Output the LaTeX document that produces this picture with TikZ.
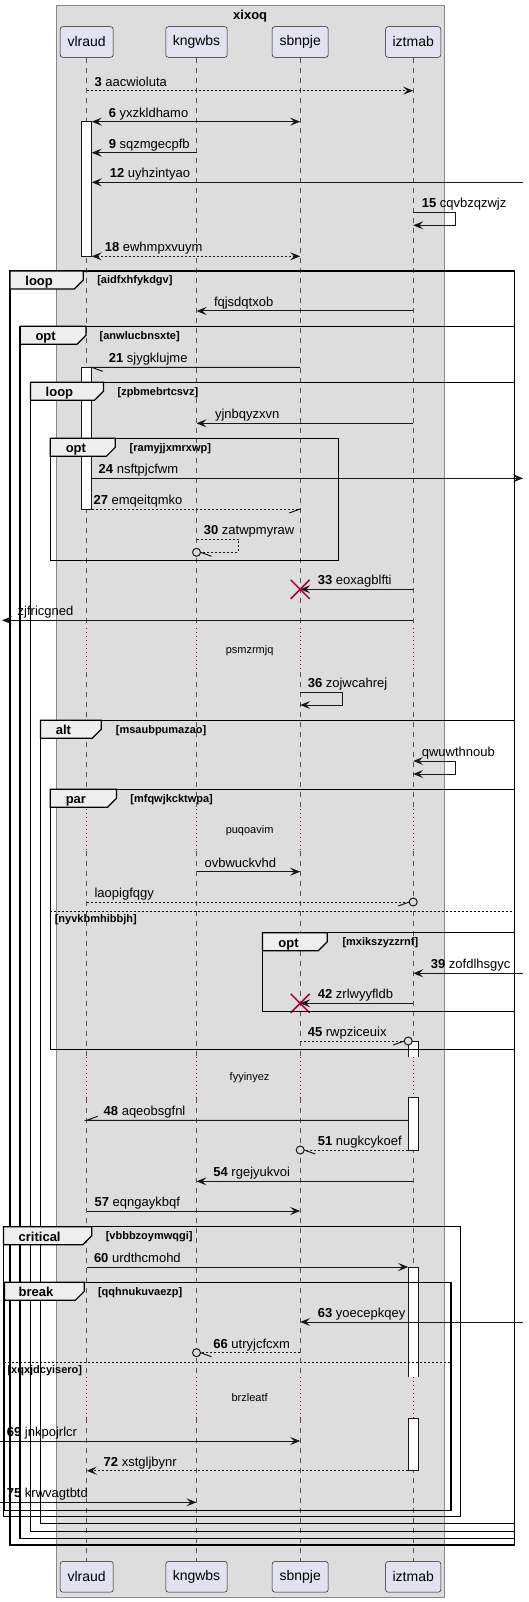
\documentclass[tikz,border=0pt]{standalone}
\usepackage{fontspec}
\setmainfont{Liberation Sans}
\usetikzlibrary{arrows.meta}
\definecolor{partfill}{HTML}{E2E2F0}
\definecolor{boxfill}{HTML}{DDDDDD}
\definecolor{boxline}{HTML}{888888}
\definecolor{ink}{HTML}{181818}
\definecolor{lifegray}{HTML}{555555}
\definecolor{delayred}{HTML}{A80036}
\definecolor{tabfill}{HTML}{EEEEEE}

\begin{document}
\begin{tikzpicture}[x=1pt,y=-1pt,
  >={Stealth[length=10pt,width=8pt,inset=4pt]},
  part/.style={draw=ink,line width=.5pt,fill=partfill,rounded corners=2.5pt,
    minimum height=30.6pt,inner xsep=7pt,font=\fontsize{14}{16}\selectfont},
  life/.style={draw=lifegray,line width=.6pt,dash pattern=on 5pt off 5pt},
  delayline/.style={draw=delayred,line width=.8pt,dash pattern=on 1pt off 3pt},
  act/.style={draw=ink,line width=1pt,fill=white},
  msgline/.style={draw=ink,line width=1pt},
  msg/.style={msgline,->},
  ret/.style={msgline,dash pattern=on 2pt off 2pt},
  lbl/.style={anchor=base west,inner sep=0pt,font=\fontsize{13}{15}\selectfont},
  dlbl/.style={anchor=base,inner sep=0pt,font=\fontsize{11}{13}\selectfont},
  frame/.style={draw=black,line width=1.5pt},
  tab/.style={draw=black,line width=1.2pt,fill=tabfill},
  tablbl/.style={anchor=base west,inner sep=0pt,font=\fontsize{13}{15}\selectfont\bfseries},
  cond/.style={anchor=base west,inner sep=0pt,font=\fontsize{11}{13}\selectfont\bfseries},
  xmark/.style={draw=delayred,line width=1.5pt}
]
\useasboundingbox (0,0) rectangle (529,1602);

%% box xixoq
\draw[draw=boxline,fill=boxfill,line width=1pt] (56.3,5.7) rectangle (444.2,1597.7);
\node[anchor=base,inner sep=0pt,font=\fontsize{13}{15}\selectfont\bfseries] (boxtitle) at (250.2,20) {xixoq};

%% participants
\node[part,minimum width=53pt] (vlraud) at (86.7,42) {vlraud};
\node[part,minimum width=61pt] (kngwbs) at (196.5,42) {kngwbs};
\node[part,minimum width=56pt] (sbnpje) at (300.2,42) {sbnpje};
\node[part,minimum width=54pt] (iztmab) at (413.2,42) {iztmab};
\node[part,minimum width=53pt] (vlraud-b) at (86.7,1576.8) {vlraud};
\node[part,minimum width=61pt] (kngwbs-b) at (196.5,1576.8) {kngwbs};
\node[part,minimum width=56pt] (sbnpje-b) at (300.2,1576.8) {sbnpje};
\node[part,minimum width=54pt] (iztmab-b) at (413.2,1576.8) {iztmab};

%% lifelines, dotted where the delays are
\foreach \p in {vlraud,kngwbs,sbnpje,iztmab}{
  \draw[life] (\p.south) -- (\p |- 0,628) (\p |- 0,672) -- (\p |- 0,809)
    (\p |- 0,851) -- (\p |- 0,1056.7) (\p |- 0,1097.7) -- (\p |- 0,1377.3)
    (\p |- 0,1418.3) -- (\p-b.north);
  \draw[delayline] (\p |- 0,628) -- (\p |- 0,672) (\p |- 0,809) -- (\p |- 0,851)
    (\p |- 0,1056.7) -- (\p |- 0,1097.7) (\p |- 0,1377.3) -- (\p |- 0,1418.3);
}

%% activation edges
\coordinate (vR) at (91.7,0);
\coordinate (iL) at (408.2,0);
\coordinate (extR) at (523,0);
\coordinate (extL) at (0,0);

%% activations
\draw[act] (81.7,121.7) rectangle (91.7,256.7);
\draw[act] (81.7,367.3) rectangle (91.7,509);
\fill[white] (408.2,1041) rectangle (418.2,1056.7);
\draw[act] (408.2,1056.7) -- (408.2,1041) -- (418.2,1041) -- (418.2,1056.7);
\draw[act] (408.2,1097.7) rectangle (418.2,1150);
\fill[white] (408.2,1267) rectangle (418.2,1377.3);
\draw[act] (408.2,1377.3) -- (408.2,1267) -- (418.2,1267) -- (418.2,1377.3);
\draw[act] (408.2,1418.3) rectangle (418.2,1470.7);

%% messages
\draw[ret,->] (vlraud |- 0,90.7) -- (iztmab |- 0,90.7);
\node[lbl] (l3) at (94.4,86.2) {{\bfseries 3} aacwioluta};

\draw[msgline,<->] (vR |- 0,121.7) -- (sbnpje |- 0,121.7);
\node[lbl] (l6) at (108.6,117.2) {{\bfseries 6} yxzkldhamo};

\draw[msg] (kngwbs |- 0,152.7) -- (vR |- 0,152.7);
\node[lbl] (l9) at (108.6,148.2) {{\bfseries 9} sqzmgecpfb};

\draw[msg] (extR |- 0,182.3) -- (vR |- 0,182.3);
\node[lbl] (l12) at (109.6,177.8) {{\bfseries 12} uyhzintyao};

\draw[msg] (iztmab |- 0,212.3) -- (455.3,212.3) -- (455.3,225.3) -- (iztmab |- 0,225.3);
\node[lbl] (l15) at (421.6,207.8) {{\bfseries 15} cqvbzqzwjz};

\draw[ret,<->] (vR |- 0,256.3) -- (sbnpje |- 0,256.3);
\node[lbl] (l18) at (104.6,251.8) {{\bfseries 18} ewhmpxvuym};

\draw[msg] (iztmab |- 0,311) -- (kngwbs |- 0,311);
\node[lbl] (lfq) at (213.8,306.5) {fqjsdqtxob};

\draw[msgline] (sbnpje |- 0,367.3) -- (vR |- 0,367.3) -- ++(11,4);
\node[lbl] (l21) at (108.6,362.8) {{\bfseries 21} sjygklujme};

\draw[msg] (iztmab |- 0,423.3) -- (kngwbs |- 0,423.3);
\node[lbl] (lyj) at (214.8,418.8) {yjnbqyzxvn};

\draw[msg] (vR |- 0,478.3) -- (extR |- 0,478.3);
\node[lbl] (l24) at (98.5,473.8) {{\bfseries 24} nsftpjcfwm};

\draw[ret] (vR |- 0,509) -- (sbnpje |- 0,509);
\draw[msgline] (sbnpje |- 0,509) -- ++(-11,4);
\node[lbl] (l27) at (93.4,504.5) {{\bfseries 27} emqeitqmko};

\draw[ret] (kngwbs |- 0,539.3) -- (238.4,539.3) -- (238.4,552.3) -- (kngwbs |- 0,552.3);
\draw[msgline,fill=boxfill] (kngwbs |- 0,552.3) circle (4pt);
\draw[msgline] (kngwbs |- 0,552.3) ++(4,0) -- ++(11,4);
\node[lbl] (l30) at (203.7,534.8) {{\bfseries 30} zatwpmyraw};

\draw[msg] (iztmab |- 0,589.3) -- (sbnpje |- 0,589.3);
\draw[xmark] (sbnpje |- 0,589.3) ++(-9.5,-9.5) -- ++(19,19) ++(0,-19) -- ++(-19,19);
\node[lbl] (l33) at (317.7,584.8) {{\bfseries 33} eoxagblfti};

\draw[msg] (iztmab |- 0,620.3) -- ([xshift=2pt]extL |- 0,620.3);
\node[lbl] (lzj) at (17.5,615.8) {zjfricgned};

\node[dlbl] (d1) at (249.6,653.5) {psmzrmjq};

\draw[msg] (sbnpje |- 0,692.3) -- (342.3,692.3) -- (342.3,705) -- (sbnpje |- 0,705);
\node[lbl] (l36) at (307.6,687.8) {{\bfseries 36} zojwcahrej};

\draw[msgline,<->] (iztmab |- 0,761) -- (455.3,761) -- (455.3,774) -- (iztmab |- 0,774);
\node[lbl] (lqw) at (421.6,756.5) {qwuwthnoub};

\node[dlbl] (d2) at (249.6,833.5) {puqoavim};

\draw[msg] (kngwbs |- 0,871.7) -- (sbnpje |- 0,871.7);
\node[lbl] (lov) at (204.4,867.2) {ovbwuckvhd};

\draw[ret] (vlraud |- 0,902) -- (iztmab |- 0,902);
\draw[msgline,fill=boxfill] (iztmab |- 0,902) circle (4pt);
\draw[msgline] (iztmab |- 0,902) ++(-4,0) -- ++(-11,4);
\node[lbl] (lla) at (94.4,897.5) {laopigfqgy};

\draw[msg] (extR |- 0,973.3) -- (iztmab |- 0,973.3);
\node[lbl] (l39) at (430.7,968.8) {{\bfseries 39} zofdlhsgyc};

\draw[msg] (iztmab |- 0,1003.3) -- (sbnpje |- 0,1003.3);
\draw[xmark] (sbnpje |- 0,1003.3) ++(-9.5,-9.5) -- ++(19,19) ++(0,-19) -- ++(-19,19);
\node[lbl] (l42) at (317.7,998.8) {{\bfseries 42} zrlwyyfldb};

\draw[ret] (sbnpje |- 0,1041) -- (iL |- 0,1041);
\draw[msgline,fill=boxfill] (iL |- 0,1041) circle (4pt);
\draw[msgline] (iL |- 0,1041) ++(-4,0) -- ++(-11,4);
\node[lbl] (l45) at (307.6,1036.5) {{\bfseries 45} rwpziceuix};

\node[dlbl] (d3) at (249.6,1080.7) {fyyinyez};

\draw[msgline] (iL |- 0,1120.3) -- (vlraud |- 0,1120.3) -- ++(11,-4);
\node[lbl] (l48) at (103.5,1115.8) {{\bfseries 48} aqeobsgfnl};

\draw[ret] (iL |- 0,1150) -- (sbnpje |- 0,1150);
\draw[msgline,fill=boxfill] (sbnpje |- 0,1150) circle (4pt);
\draw[msgline] (sbnpje |- 0,1150) ++(4,0) -- ++(11,4);
\node[lbl] (l51) at (317.7,1145.5) {{\bfseries 51} nugkcykoef};

\draw[msg] (iztmab |- 0,1181.3) -- (kngwbs |- 0,1181.3);
\node[lbl] (l54) at (213.2,1176.8) {{\bfseries 54} rgejyukvoi};

\draw[msg] (vlraud |- 0,1211) -- (sbnpje |- 0,1211);
\node[lbl] (l57) at (94.4,1206.5) {{\bfseries 57} eqngaykbqf};

\draw[msg] (vlraud |- 0,1267) -- (iL |- 0,1267);
\node[lbl] (l60) at (93.8,1262.5) {{\bfseries 60} urdthcmohd};

\draw[msg] (extR |- 0,1322) -- (sbnpje |- 0,1322);
\node[lbl] (l63) at (317.7,1317.5) {{\bfseries 63} yoecepkqey};

\draw[ret] (sbnpje |- 0,1352.7) -- (kngwbs |- 0,1352.7);
\draw[msgline,fill=boxfill] (kngwbs |- 0,1352.7) circle (4pt);
\draw[msgline] (kngwbs |- 0,1352.7) ++(4,0) -- ++(11,4);
\node[lbl] (l66) at (213.2,1348.2) {{\bfseries 66} utryjcfcxm};

\node[dlbl] (d4) at (249.6,1401.3) {brzleatf};

\draw[msg] (extL |- 0,1441) -- (sbnpje |- 0,1441);
\node[lbl] (l69) at (6.7,1436.5) {{\bfseries 69} jnkpojrlcr};

\draw[ret,->] (iL |- 0,1470.7) -- (vlraud |- 0,1470.7);
\node[lbl] (l72) at (103.5,1466.2) {{\bfseries 72} xstgljbynr};

\draw[msg] (extL |- 0,1502.3) -- (kngwbs |- 0,1502.3);
\node[lbl] (l75) at (6.7,1497.8) {{\bfseries 75} krwvagtbtd};

%% frames
% loop aidfxhfykdgv
\draw[frame] (10.1,271) rectangle (514.3,1545);
\draw[tab] (10.1,271) -- (83.3,271) -- (83.3,280) -- (74.3,289) -- (10.1,289) -- cycle;
\node[tablbl] (floop1) at (25.2,285.3) {loop};
\node[cond] (cloop1) at (97.1,283.7) {[aidfxhfykdgv]};

% opt anwlucbnsxte
\draw[frame] (20.2,326.3) rectangle (514.3,1538.3);
\draw[tab] (20.2,326.3) -- (86,326.3) -- (86,335.3) -- (77,344.3) -- (20.2,344.3) -- cycle;
\node[tablbl] (fopt1) at (35.3,340.6) {opt};
\node[cond] (copt1) at (99.5,339) {[anwlucbnsxte]};

% loop zpbmebrtcsvz
\draw[frame] (30.4,382.3) rectangle (514.3,1531.7);
\draw[tab] (30.4,382.3) -- (103.5,382.3) -- (103.5,391.3) -- (94.5,400.3) -- (30.4,400.3) -- cycle;
\node[tablbl] (floop2) at (45.5,396.6) {loop};
\node[cond] (cloop2) at (117.4,395) {[zpbmebrtcsvz]};

% opt ramyjjxmrxwp
\draw[frame] (50.3,438.3) rectangle (338.3,560.7);
\draw[tab] (50.3,438.3) -- (115.3,438.3) -- (115.3,447.3) -- (106.3,456.3) -- (50.3,456.3) -- cycle;
\node[tablbl] (fopt2) at (65.6,452.6) {opt};
\node[cond] (copt2) at (129.5,451) {[ramyjjxmrxwp]};

% alt msaubpumazao
\draw[frame] (40.5,720.3) rectangle (514.3,1523.3);
\draw[tab] (40.5,720.3) -- (101.2,720.3) -- (101.2,729.3) -- (92.2,738.3) -- (40.5,738.3) -- cycle;
\node[tablbl] (falt) at (55.6,734.6) {alt};
\node[cond] (calt) at (115.7,733) {[msaubpumazao]};

% par mfqwjkcktwpa
\draw[frame] (50.3,789.3) rectangle (514.3,1049.3);
\draw[tab] (50.3,789.3) -- (116.4,789.3) -- (116.4,798.3) -- (107.4,807.3) -- (50.3,807.3) -- cycle;
\node[tablbl] (fpar) at (65.6,803.6) {par};
\node[cond] (cpar) at (130.2,802) {[mfqwjkcktwpa]};
\draw[draw=black,line width=1pt,dash pattern=on 2pt off 2pt] (50.3,911) -- (514.3,911);
\node[cond] (epar) at (54.6,922) {[nyvkbmhibbjh]};

% opt mxikszyzzrnf
\draw[frame] (262.4,932.7) rectangle (514.3,1011.3);
\draw[tab] (262.4,932.7) -- (327.2,932.7) -- (327.2,941.7) -- (318.2,950.7) -- (262.4,950.7) -- cycle;
\node[tablbl] (fopt3) at (278.2,947) {opt};
\node[cond] (copt3) at (342.3,945.4) {[mxikszyzzrnf]};

% critical vbbbzoymwqgi
\draw[frame] (3.4,1226.7) rectangle (460.4,1516.7);
\draw[tab] (3.4,1226.7) -- (91.7,1226.7) -- (91.7,1235.7) -- (82.7,1244.7) -- (3.4,1244.7) -- cycle;
\node[tablbl] (fcrit) at (18.5,1241) {critical};
\node[cond] (ccrit) at (105.6,1239.4) {[vbbbzoymwqgi]};

% break qqhnukuvaezp
\draw[frame] (4.4,1282.3) rectangle (450.9,1510.7);
\draw[tab] (4.4,1282.3) -- (84.3,1282.3) -- (84.3,1291.3) -- (75.3,1300.3) -- (4.4,1300.3) -- cycle;
\node[tablbl] (fbrk) at (18.5,1296.6) {break};
\node[cond] (cbrk) at (97.8,1295) {[qqhnukuvaezp]};
\draw[draw=black,line width=1pt,dash pattern=on 2pt off 2pt] (4.4,1362.3) -- (450.9,1362.3);
\node[cond] (ebrk) at (7.3,1373.3) {[xqxjdcyisero]};
\end{tikzpicture}
\end{document}
